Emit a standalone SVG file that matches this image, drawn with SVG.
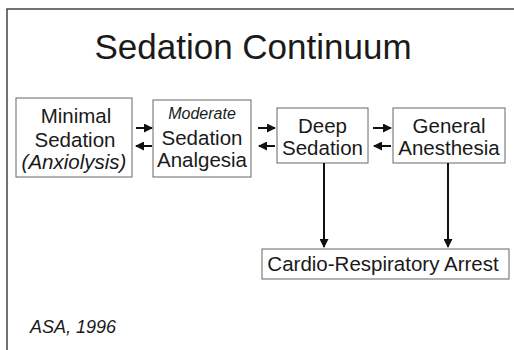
<svg xmlns="http://www.w3.org/2000/svg" width="514" height="350" viewBox="0 0 514 350">
  <style>
    .frame { fill: none; stroke: #444; stroke-width: 1.5; }
    .box { fill: #fff; stroke: #666; stroke-width: 1; }
    .t { font-family: "Liberation Sans", Arial, Helvetica, sans-serif; fill: #1a1a1a; text-anchor: middle; }
    .lbl { font-size: 20.5px; }
    .it { font-style: italic; }
    .conn { stroke: #111; stroke-width: 2; fill: none; marker-end: url(#head); }
  </style>
  <defs>
    <marker id="head" markerWidth="4.5" markerHeight="4.5" refX="4" refY="2.25" orient="auto" markerUnits="strokeWidth">
      <path d="M0,0 L4.5,2.25 L0,4.5 Z" fill="#111"/>
    </marker>
  </defs>

  <rect width="514" height="350" fill="#fff"/>
  <!-- slide frame (top and left edges) -->
  <path class="frame" d="M7,350 V9 H514"/>

  <text class="t" x="253" y="59" font-size="35">Sedation Continuum</text>

  <g id="minimal">
    <rect class="box" x="16" y="98" width="116" height="79"/>
    <text class="t lbl" x="76" y="123">Minimal</text>
    <text class="t lbl" x="75" y="147">Sedation</text>
    <text class="t lbl it" x="74" y="169">(Anxiolysis)</text>
  </g>

  <g id="moderate">
    <rect class="box" x="153" y="100" width="98" height="77"/>
    <text class="t it" x="202" y="119" font-size="16">Moderate</text>
    <text class="t lbl" x="202" y="145">Sedation</text>
    <text class="t lbl" x="202" y="167">Analgesia</text>
  </g>

  <g id="deep">
    <rect class="box" x="277" y="108" width="91" height="55"/>
    <text class="t lbl" x="322.5" y="133">Deep</text>
    <text class="t lbl" x="322.5" y="155">Sedation</text>
  </g>

  <g id="general">
    <rect class="box" x="393" y="108" width="112" height="55"/>
    <text class="t lbl" x="449" y="133">General</text>
    <text class="t lbl" x="449" y="155">Anesthesia</text>
  </g>

  <g id="arrest">
    <rect class="box" x="262" y="249" width="247" height="30"/>
    <text class="t lbl" x="383" y="271">Cardio-Respiratory Arrest</text>
  </g>

  <g id="connectors">
    <line class="conn" x1="136" y1="128" x2="152" y2="128"/>
    <line class="conn" x1="152" y1="146" x2="136" y2="146"/>
    <line class="conn" x1="258" y1="128" x2="275" y2="128"/>
    <line class="conn" x1="275" y1="146" x2="259" y2="146"/>
    <line class="conn" x1="373" y1="128" x2="391" y2="128"/>
    <line class="conn" x1="391" y1="146" x2="374" y2="146"/>
    <line class="conn" x1="324" y1="163" x2="324" y2="247"/>
    <line class="conn" x1="448" y1="163" x2="448" y2="247"/>
  </g>

  <text class="t it" x="30" y="333" font-size="18" style="text-anchor:start">ASA, 1996</text>
</svg>
